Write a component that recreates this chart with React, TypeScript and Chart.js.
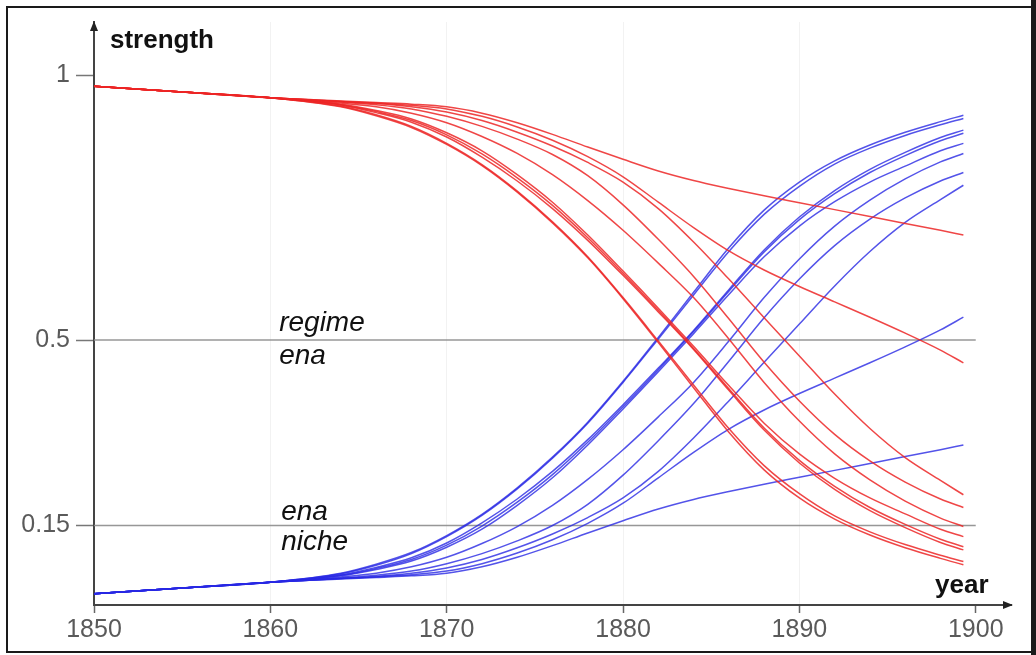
import React, { useEffect, useRef } from "react";
import { Chart, registerables } from "chart.js";

Chart.register(...registerables);

// ---- data ----
const years = [1850, 1855, 1860, 1864, 1866, 1868, 1870, 1872, 1874, 1876, 1878, 1880, 1882, 1884, 1886, 1888, 1890, 1892, 1894, 1896, 1898, 1899.3];

// red: "regime ena" strength
const regime1 = [0.979, 0.968, 0.957, 0.951, 0.948, 0.945, 0.940, 0.928, 0.910, 0.888, 0.864, 0.841, 0.819, 0.801, 0.786, 0.772, 0.759, 0.746, 0.733, 0.720, 0.707, 0.698];
const regime2 = [0.979, 0.968, 0.957, 0.950, 0.947, 0.943, 0.936, 0.922, 0.902, 0.877, 0.846, 0.808, 0.760, 0.712, 0.668, 0.632, 0.601, 0.572, 0.543, 0.513, 0.481, 0.457];
const regime3 = [0.979, 0.968, 0.957, 0.950, 0.946, 0.940, 0.930, 0.914, 0.892, 0.866, 0.835, 0.798, 0.748, 0.685, 0.615, 0.542, 0.470, 0.398, 0.333, 0.278, 0.235, 0.208];
const regime4 = [0.979, 0.968, 0.957, 0.949, 0.944, 0.936, 0.922, 0.903, 0.879, 0.850, 0.810, 0.755, 0.690, 0.620, 0.540, 0.458, 0.385, 0.322, 0.272, 0.232, 0.200, 0.184];
const regime5 = [0.979, 0.968, 0.957, 0.947, 0.940, 0.928, 0.910, 0.884, 0.852, 0.812, 0.763, 0.707, 0.645, 0.580, 0.502, 0.420, 0.347, 0.285, 0.236, 0.196, 0.164, 0.148];
const regime6 = [0.979, 0.968, 0.957, 0.945, 0.933, 0.917, 0.891, 0.857, 0.812, 0.760, 0.698, 0.630, 0.560, 0.488, 0.414, 0.343, 0.285, 0.239, 0.202, 0.172, 0.143, 0.129];
const regime7 = [0.979, 0.968, 0.957, 0.944, 0.931, 0.914, 0.887, 0.851, 0.806, 0.754, 0.693, 0.626, 0.556, 0.484, 0.408, 0.334, 0.273, 0.224, 0.184, 0.152, 0.124, 0.110];
const regime8 = [0.979, 0.968, 0.957, 0.943, 0.929, 0.911, 0.883, 0.845, 0.800, 0.748, 0.688, 0.622, 0.553, 0.482, 0.405, 0.330, 0.268, 0.218, 0.178, 0.146, 0.118, 0.104];
const regime9 = [0.979, 0.968, 0.957, 0.941, 0.925, 0.903, 0.871, 0.831, 0.781, 0.723, 0.657, 0.580, 0.498, 0.415, 0.333, 0.263, 0.210, 0.168, 0.138, 0.114, 0.094, 0.082];
const regime10 = [0.979, 0.968, 0.957, 0.940, 0.923, 0.901, 0.869, 0.829, 0.779, 0.721, 0.655, 0.578, 0.495, 0.410, 0.326, 0.255, 0.202, 0.162, 0.132, 0.108, 0.088, 0.076];

// blue: "ena niche" strength
const niche1 = [0.021, 0.032, 0.043, 0.049, 0.052, 0.055, 0.060, 0.072, 0.090, 0.112, 0.136, 0.159, 0.181, 0.199, 0.214, 0.228, 0.241, 0.254, 0.267, 0.280, 0.293, 0.302];
const niche2 = [0.021, 0.032, 0.043, 0.050, 0.053, 0.057, 0.064, 0.078, 0.098, 0.123, 0.154, 0.192, 0.240, 0.288, 0.332, 0.368, 0.399, 0.428, 0.457, 0.487, 0.519, 0.543];
const niche3 = [0.021, 0.032, 0.043, 0.050, 0.054, 0.060, 0.070, 0.086, 0.108, 0.134, 0.165, 0.202, 0.252, 0.315, 0.385, 0.458, 0.530, 0.602, 0.667, 0.722, 0.765, 0.792];
const niche4 = [0.021, 0.032, 0.043, 0.051, 0.056, 0.064, 0.078, 0.097, 0.121, 0.150, 0.190, 0.245, 0.310, 0.380, 0.460, 0.542, 0.615, 0.678, 0.728, 0.768, 0.800, 0.816];
const niche5 = [0.021, 0.032, 0.043, 0.053, 0.060, 0.072, 0.090, 0.116, 0.148, 0.188, 0.237, 0.293, 0.355, 0.420, 0.498, 0.580, 0.653, 0.715, 0.764, 0.804, 0.836, 0.852];
const niche6 = [0.021, 0.032, 0.043, 0.055, 0.067, 0.083, 0.109, 0.143, 0.188, 0.240, 0.302, 0.370, 0.440, 0.512, 0.586, 0.657, 0.715, 0.761, 0.798, 0.828, 0.857, 0.871];
const niche7 = [0.021, 0.032, 0.043, 0.056, 0.069, 0.086, 0.113, 0.149, 0.194, 0.246, 0.307, 0.374, 0.444, 0.516, 0.592, 0.666, 0.727, 0.776, 0.816, 0.848, 0.876, 0.890];
const niche8 = [0.021, 0.032, 0.043, 0.057, 0.071, 0.089, 0.117, 0.155, 0.200, 0.252, 0.312, 0.378, 0.447, 0.518, 0.595, 0.670, 0.732, 0.782, 0.822, 0.854, 0.882, 0.896];
const niche9 = [0.021, 0.032, 0.043, 0.059, 0.075, 0.097, 0.129, 0.169, 0.219, 0.277, 0.343, 0.420, 0.502, 0.585, 0.667, 0.737, 0.790, 0.832, 0.862, 0.886, 0.906, 0.918];
const niche10 = [0.021, 0.032, 0.043, 0.060, 0.077, 0.099, 0.131, 0.171, 0.221, 0.279, 0.345, 0.422, 0.505, 0.590, 0.674, 0.745, 0.798, 0.838, 0.868, 0.892, 0.912, 0.924];

const regimeSeries = [regime1, regime2, regime3, regime4, regime5, regime6, regime7, regime8, regime9, regime10];
const nicheSeries = [niche1, niche2, niche3, niche4, niche5, niche6, niche7, niche8, niche9, niche10];

const xTickValues = [1850, 1860, 1870, 1880, 1890, 1900];
const yTickValues = [0.15, 0.5, 1];
const referenceLevels = [0.5, 0.15];
const referenceSpan = [1850, 1900];

const FONT = "'Liberation Sans', Arial, Helvetica, sans-serif";

const decorPlugin = {
  id: "decor",
  afterDraw(chart: any) {
    const { ctx, chartArea, scales } = chart;
    const xs = scales.x;
    const ys = scales.y;
    ctx.save();
    // arrowheads
    ctx.fillStyle = "#222";
    ctx.beginPath();
    ctx.moveTo(chartArea.left, chartArea.top - 1);
    ctx.lineTo(chartArea.left - 4, chartArea.top + 9);
    ctx.lineTo(chartArea.left + 4, chartArea.top + 9);
    ctx.closePath();
    ctx.fill();
    ctx.beginPath();
    ctx.moveTo(chartArea.right + 2, chartArea.bottom);
    ctx.lineTo(chartArea.right - 8, chartArea.bottom - 4);
    ctx.lineTo(chartArea.right - 8, chartArea.bottom + 4);
    ctx.closePath();
    ctx.fill();

    // axis titles
    ctx.fillStyle = "#111";
    ctx.textBaseline = "alphabetic";
    ctx.textAlign = "left";
    ctx.font = `bold 26px ${FONT}`;
    ctx.fillText("strength", chartArea.left + 16, 48);
    ctx.fillText("year", chartArea.right - 76, chartArea.bottom - 12);

    // series labels
    ctx.font = `italic 28px ${FONT}`;
    const lx = xs.getPixelForValue(1860.5);
    ctx.fillText("regime", lx, ys.getPixelForValue(0.517));
    ctx.fillText("ena", lx, ys.getPixelForValue(0.455));
    ctx.fillText("ena", lx + 2, ys.getPixelForValue(0.160));
    ctx.fillText("niche", lx + 2, ys.getPixelForValue(0.104));

    // picture frame
    ctx.fillStyle = "#1a1a1a";
    ctx.fillRect(6, 6, 1026, 2);
    ctx.fillRect(6, 6, 2, 647);
    ctx.fillRect(6, 651, 1026, 2);
    ctx.fillRect(1031, 0, 5, 655);
    ctx.restore();
  },
};

export default function App() {
  const ref = useRef<HTMLCanvasElement | null>(null);

  useEffect(() => {
    if (!ref.current) return;
    const datasets: any[] = [];
    regimeSeries.forEach((s, k) => {
      datasets.push({
        label: `regime ${k + 1}`,
        data: years.map((x, i) => ({ x, y: s[i] })),
        borderColor: "rgba(236,38,38,0.85)",
        borderWidth: 1.5,
        pointRadius: 0,
        cubicInterpolationMode: "monotone",
        fill: false,
      });
    });
    nicheSeries.forEach((s, k) => {
      datasets.push({
        label: `niche ${k + 1}`,
        data: years.map((x, i) => ({ x, y: s[i] })),
        borderColor: "rgba(40,40,228,0.8)",
        borderWidth: 1.5,
        pointRadius: 0,
        cubicInterpolationMode: "monotone",
        fill: false,
      });
    });
    referenceLevels.forEach((lvl) => {
      datasets.push({
        label: `level ${lvl}`,
        data: referenceSpan.map((x) => ({ x, y: lvl })),
        borderColor: "rgba(140,140,140,0.9)",
        borderWidth: 1.5,
        pointRadius: 0,
        fill: false,
      });
    });

    const chart = new Chart(ref.current, {
      type: "line",
      data: { datasets },
      options: {
        responsive: false,
        devicePixelRatio: 1,
        animation: false,
        layout: { padding: { left: 0, right: 25, top: 22, bottom: 0 } },
        plugins: { legend: { display: false }, tooltip: { enabled: false } },
        scales: {
          x: {
            type: "linear",
            min: 1850,
            max: 1902,
            afterBuildTicks: (s: any) => {
              s.ticks = xTickValues.map((v) => ({ value: v }));
            },
            afterFit: (s: any) => {
              s.height = 50;
            },
            grid: {
              color: (c: any) =>
                c.tick && (c.tick.value === 1850 || c.tick.value === 1900) ? "rgba(0,0,0,0)" : "rgba(0,0,0,0.05)",
              drawTicks: true,
              tickLength: 8,
              tickColor: "#666",
              tickWidth: 1.5,
            },
            border: { display: true, color: "#444", width: 2 },
            ticks: {
              font: { family: FONT, size: 25 },
              color: "#5a5a5a",
              padding: 2,
              maxRotation: 0,
              autoSkip: false,
              callback: (v: any) => String(v),
            },
          },
          y: {
            type: "linear",
            min: 0,
            max: 1.1,
            afterBuildTicks: (s: any) => {
              s.ticks = yTickValues.map((v) => ({ value: v }));
            },
            afterFit: (s: any) => {
              s.width = 94;
            },
            grid: {
              drawOnChartArea: false,
              drawTicks: true,
              tickLength: 18,
              tickColor: "#777",
              tickWidth: 1.5,
            },
            border: { display: true, color: "#444", width: 2 },
            ticks: {
              font: { family: FONT, size: 25 },
              color: "#5a5a5a",
              padding: 6,
              callback: (v: any) => String(v),
            },
          },
        },
      },
      plugins: [decorPlugin],
    });
    return () => chart.destroy();
  }, []);

  return (
    <div style={{ position: "fixed", left: 0, top: 0, width: 1036, height: 655, background: "#fff" }}>
      <canvas ref={ref} width={1036} height={655} style={{ display: "block", width: 1036, height: 655 }} />
    </div>
  );
}
